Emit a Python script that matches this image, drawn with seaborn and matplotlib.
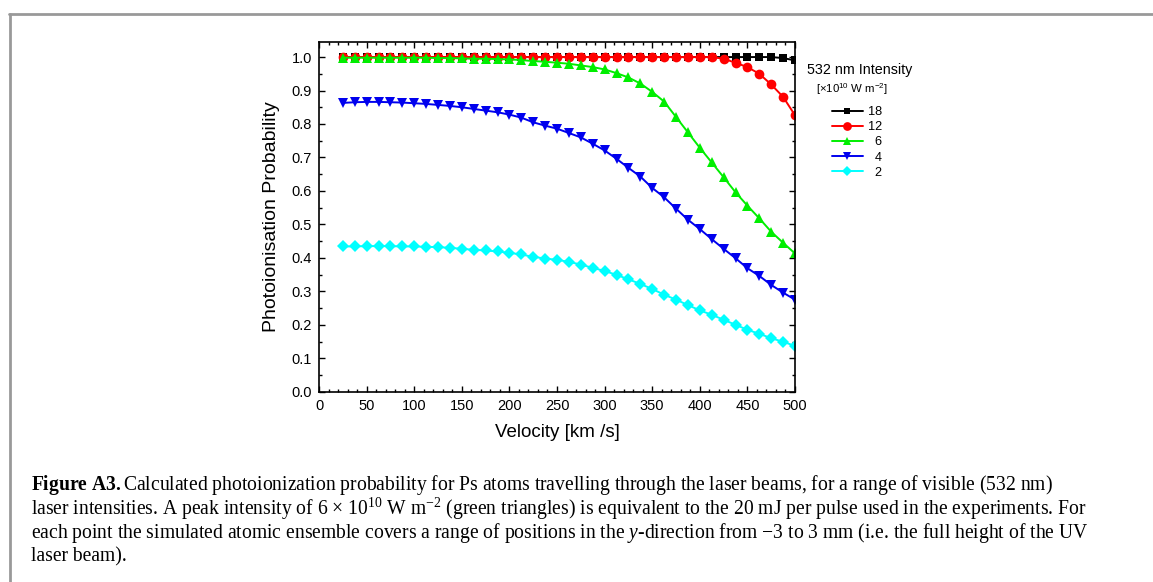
import numpy as np
import pandas as pd
import matplotlib
matplotlib.use("Agg")
import matplotlib.pyplot as plt
from matplotlib.lines import Line2D
from matplotlib.ticker import MultipleLocator
import seaborn as sns

# ---------------- data ----------------
velocity = [25 + 12.5 * i for i in range(39)]  # km/s

p18 = [1.0] * 36 + [1.0, 0.997, 0.990]
p12 = [1.0] * 32 + [0.995, 0.983, 0.970, 0.950, 0.918, 0.881, 0.826]
p6 = [0.998, 0.998, 0.998, 0.998, 0.998, 0.998, 0.998, 0.998, 0.997, 0.997,
      0.996, 0.995, 0.995, 0.994, 0.993, 0.991, 0.988, 0.986, 0.983, 0.980,
      0.975, 0.970, 0.963, 0.952, 0.939, 0.921, 0.896, 0.867, 0.821, 0.775,
      0.729, 0.685, 0.641, 0.596, 0.556, 0.518, 0.478, 0.445, 0.413]
p4 = [0.863, 0.865, 0.866, 0.866, 0.865, 0.864, 0.862, 0.860, 0.857, 0.854,
      0.850, 0.845, 0.840, 0.835, 0.828, 0.819, 0.805, 0.795, 0.786, 0.773,
      0.760, 0.741, 0.721, 0.696, 0.669, 0.643, 0.609, 0.581, 0.547, 0.514,
      0.486, 0.456, 0.427, 0.399, 0.369, 0.346, 0.319, 0.296, 0.275]
p2 = [0.434, 0.434, 0.435, 0.435, 0.435, 0.434, 0.434, 0.433, 0.432, 0.430,
      0.427, 0.424, 0.422, 0.419, 0.415, 0.410, 0.403, 0.398, 0.394, 0.388,
      0.380, 0.370, 0.361, 0.349, 0.336, 0.322, 0.307, 0.290, 0.275, 0.259,
      0.243, 0.230, 0.215, 0.200, 0.185, 0.173, 0.160, 0.149, 0.137]

series_labels = ["18", "12", "  6", "  4", "  2"]
series_values = [p18, p12, p6, p4, p2]
series_colors = ["#000000", "#ff0000", "#00ee00", "#0000ee", "#00ffff"]
series_markers = ["s", "o", "^", "v", "D"]
series_msize = [5.5, 7.0, 7.0, 7.0, 6.0]

x_ticks = list(range(0, 501, 50))
y_ticks = [round(0.1 * i, 1) for i in range(11)]

caption_lines = [
    r"$\mathbf{Figure\ A3.}$Calculated photoionization probability for Ps atoms travelling through the laser beams, for a range of visible (532 nm)",
    r"laser intensities. A peak intensity of 6 $\times$ 10$^{10}$ W m$^{-2}$ (green triangles) is equivalent to the 20 mJ per pulse used in the experiments. For",
    r"each point the simulated atomic ensemble covers a range of positions in the $y$-direction from $-$3 to 3 mm (i.e. the full height of the UV",
    r"laser beam).",
]

# ---------------- style ----------------
sns.set_style("ticks")
plt.rcParams["font.family"] = ["Liberation Sans", "DejaVu Sans"]
plt.rcParams["text.color"] = "black"
plt.rcParams["axes.labelcolor"] = "black"
plt.rcParams["xtick.color"] = "black"
plt.rcParams["ytick.color"] = "black"
plt.rcParams["mathtext.fontset"] = "custom"
plt.rcParams["mathtext.rm"] = "Liberation Serif"
plt.rcParams["mathtext.it"] = "Liberation Serif:italic"
plt.rcParams["mathtext.bf"] = "Liberation Serif:bold"
plt.rcParams["mathtext.sf"] = "Liberation Sans"

W, H = 1153, 582
fig = plt.figure(figsize=(W / 100, H / 100), dpi=100)
fig.patch.set_facecolor("white")

ax = fig.add_axes([319 / W, 1 - 391.7 / H, (795 - 319) / W, (391.7 - 42) / H])
ax.set_facecolor("white")

for lab, vals, col, mk, ms in zip(series_labels, series_values, series_colors,
                                  series_markers, series_msize):
    df = pd.DataFrame({"v": velocity, "p": vals})
    sns.lineplot(data=df, x="v", y="p", ax=ax, color=col, marker=mk,
                 markersize=ms, markeredgewidth=0, linewidth=1.4, label=lab,
                 legend=False)

ax.set_xlim(0, 500)
ax.set_ylim(0, 1.045)
ax.set_xticks(x_ticks)
ax.set_yticks(y_ticks)
ax.set_xticklabels([str(t) for t in x_ticks])
ax.set_yticklabels([f"{t:.1f}" for t in y_ticks])
ax.xaxis.set_minor_locator(MultipleLocator(10))
ax.yaxis.set_minor_locator(MultipleLocator(0.05))
ax.tick_params(which="both", direction="in", top=True, right=True,
               colors="black", labelsize=10.5, width=1.0)
ax.tick_params(which="major", length=4.5, pad=5)
ax.tick_params(which="minor", length=2.5)
for s in ax.spines.values():
    s.set_color("black")
    s.set_linewidth(1.2)

ax.set_xlabel("Velocity [km /s]", fontsize=13.5, labelpad=8)
ax.set_ylabel("Photoionisation Probability", fontsize=14, labelpad=8)

# legend
handles = [Line2D([], [], color=c, marker=m, markersize=ms * 0.9,
                  markeredgewidth=0, linewidth=1.4)
           for c, m, ms in zip(series_colors, series_markers, series_msize)]
leg = fig.legend(handles, series_labels, loc="upper left",
                 bbox_to_anchor=(832 / W, 1 - 106 / H), frameon=False,
                 fontsize=9.2, handlelength=2.4, handletextpad=0.4,
                 labelspacing=0.25, borderpad=0, borderaxespad=0)
for t in leg.get_texts():
    t.set_color("black")
fig.text(807 / W, 1 - 70 / H, "532 nm Intensity", fontsize=10.3,
         va="center", ha="left")
fig.text(816 / W, 1 - 89 / H, r"[×10$^{\mathsf{10}}$ W m$^{\mathsf{-2}}$]",
         fontsize=8.2, va="center", ha="left")

# caption
cap_y = [485, 509, 533, 557]
for line, yy in zip(caption_lines, cap_y):
    fig.text(31 / W, 1 - yy / H, line, fontsize=14.1, va="center", ha="left",
             family="Liberation Serif", color="black")

# page frame (left & top edges)
fig.add_artist(Line2D([9.5 / W, 9.5 / W], [0, 1 - 13.5 / H],
                      transform=fig.transFigure, color="#999999", lw=2.0))
fig.add_artist(Line2D([8.5 / W, 1], [1 - 13.5 / H, 1 - 13.5 / H],
                      transform=fig.transFigure, color="#999999", lw=2.0))

fig.savefig("out.png", dpi=100)
